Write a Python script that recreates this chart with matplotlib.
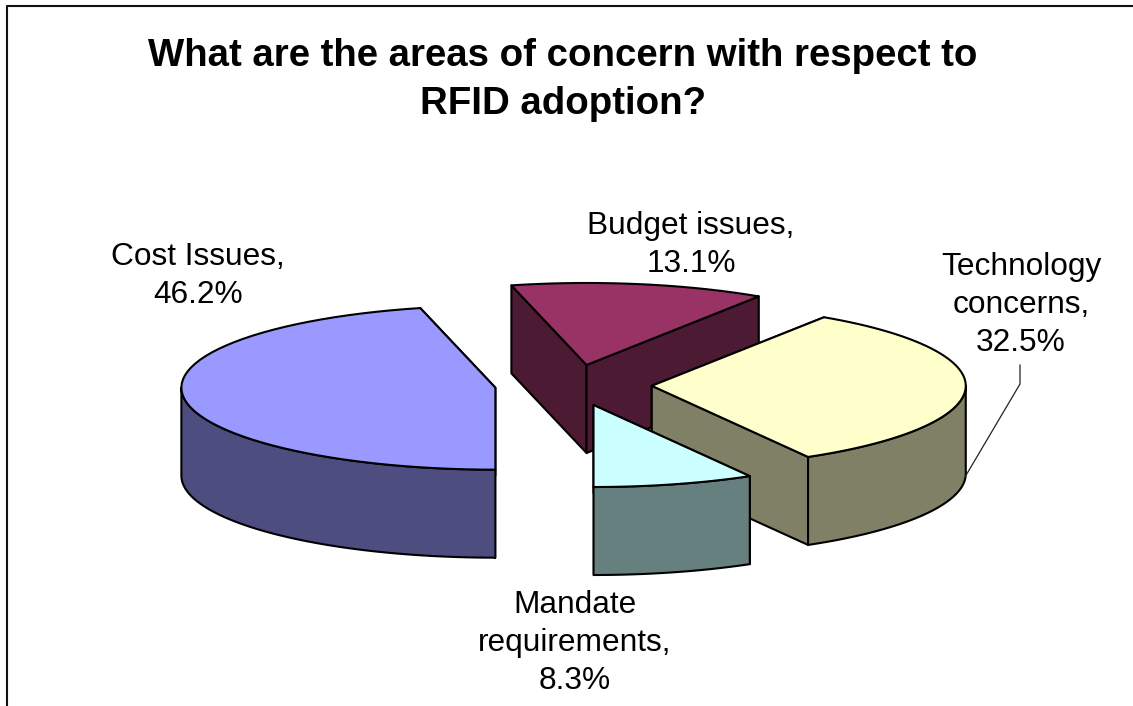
import numpy as np
import matplotlib
matplotlib.use('Agg')
from matplotlib import pyplot as plt

plt.rcParams['font.family'] = ['Liberation Sans', 'DejaVu Sans']

# slices run clockwise starting from straight down
categories = ['Cost Issues', 'Budget issues', 'Technology concerns', 'Mandate requirements']
shares = [46.2, 13.1, 32.5, 8.3]
top_colors = ['#9999FF', '#993366', '#FFFFCC', '#CCFFFF']
side_colors = ['#4D4D80', '#4D1A33', '#808066', '#668080']
label_texts = ['Cost Issues,\n46.2%', 'Budget issues,\n13.1%',
               'Technology\nconcerns,\n32.5%', 'Mandate\nrequirements,\n8.3%']
label_xy = [(198, 276), (691, 245), (1021, 305), (575, 643)]

cx, cy = 573.3, 385.2
rx, ry = 314, 82
depth = 88
explode = 0.25


def ring(start, stop, ox, oy, dz=0, n=60):
    a = np.radians(np.linspace(start, stop, n))
    return ox + rx * np.sin(a), oy - ry * np.cos(a) + dz


fig = plt.figure(figsize=(11.33, 7.06), dpi=100)
ax = fig.add_axes([0, 0, 1, 1])
ax.set_xlim(0, 1133)
ax.set_ylim(706, 0)
ax.axis('off')

# chart frame, only the left and top edges are inside the image
ax.plot([6.5, 6.5, 1133], [706, 5.5, 5.5], color='#111111', lw=1.5)

angles = np.cumsum([0] + shares) / sum(shares) * 360 + 180
wedges = []
for i in range(len(shares)):
    start, stop = angles[i], angles[i + 1]
    mid = np.radians((start + stop) / 2)
    ox = cx + explode * rx * np.sin(mid)
    oy = cy - explode * ry * np.cos(mid)
    wedges.append((start, stop, ox, oy))

# farthest slice first so nearer ones paint over it
for i in [1, 2, 3, 0]:
    start, stop, ox, oy = wedges[i]
    edge = dict(edgecolor='black', lw=1.5, joinstyle='round')

    # the two cut faces, back one first
    faces = sorted([start, stop], key=lambda t: np.cos(np.radians(t)), reverse=True)
    for t in faces:
        ex, ey = ring(t, t, ox, oy, n=1)
        ax.fill([ox, ex[0], ex[0], ox], [oy, ey[0], ey[0] + depth, oy + depth],
                facecolor=side_colors[i], **edge)

    # outer wall, only the part facing the viewer
    for k in range(-1, 3):
        lo = max(start, 90 + 360 * k)
        hi = min(stop, 270 + 360 * k)
        if hi > lo:
            x1, y1 = ring(lo, hi, ox, oy)
            x2, y2 = ring(hi, lo, ox, oy, depth)
            ax.fill(np.r_[x1, x2], np.r_[y1, y2], facecolor=side_colors[i], **edge)

    # top surface
    tx, ty = ring(start, stop, ox, oy)
    ax.fill(np.r_[ox, tx], np.r_[oy, ty], facecolor=top_colors[i], **edge)

# leader line for the technology label
ax.plot([1020, 1020, 965], [365, 384, 477], color='#222222', lw=0.9)

ax.text(563, 80, 'What are the areas of concern with respect to\nRFID adoption?',
        ha='center', va='center', fontsize=27.6, fontweight='bold',
        linespacing=1.44, color='black')

for text, (x, y) in zip(label_texts, label_xy):
    ax.text(x, y, text, ha='center', va='center', fontsize=22.8, linespacing=1.33, color='black')

fig.savefig('out.png', dpi=100, facecolor='white')
